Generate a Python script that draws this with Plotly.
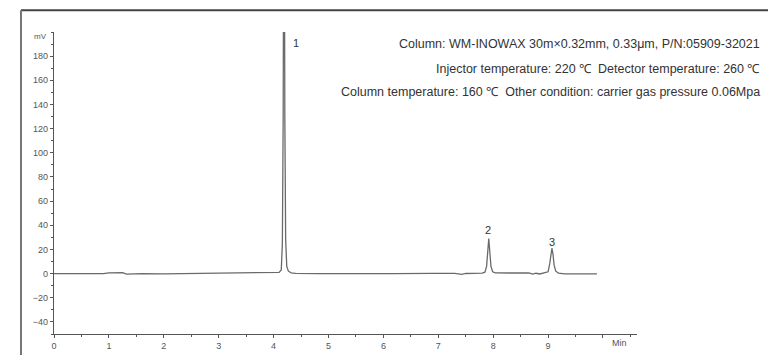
import plotly.graph_objects as go

# Chromatogram (time in min, signal in mV)
time_min = [0.00, 0.40, 0.90, 1.00, 1.10, 1.25, 1.32, 1.40, 1.60, 2.00, 2.50, 3.00, 3.30, 3.60, 3.90, 4.05,
            4.10, 4.14, 4.16, 4.175, 4.19, 4.205, 4.22, 4.24, 4.27, 4.32, 4.40, 4.80, 5.50, 6.20, 6.90,
            7.30, 7.43, 7.50, 7.80, 7.85, 7.88, 7.90, 7.92, 7.94, 7.96, 7.99, 8.04, 8.30, 8.65, 8.72,
            8.78, 8.85, 8.95, 9.00, 9.03, 9.05, 9.07, 9.09, 9.11, 9.14, 9.19, 9.30, 9.60, 9.75, 9.89]
signal_mv = [0.0, -0.2, -0.1, 0.6, 0.8, 0.7, -0.4, -0.3, -0.1, -0.2, 0.0, 0.0, 0.3, 0.6, 0.7, 0.8,
             1.0, 3.0, 25.0, 130.0, 420.0, 130.0, 28.0, 6.0, 2.0, 0.6, 0.2, 0.0, -0.2, -0.1, 0.2,
             0.2, -0.6, 0.1, 0.4, 1.2, 6.0, 17.0, 29.0, 17.0, 6.0, 1.5, 0.6, 0.5, 0.6, -0.4,
             0.3, -0.3, 0.6, 1.5, 8.0, 16.0, 21.0, 16.0, 7.0, 2.0, 0.4, -0.3, -0.2, -0.4, -0.3]

peak_labels = ["1", "2", "3"]
peak_x = [4.41, 7.905, 9.07]
peak_y = [191, 36, 26]

info_lines = [
    "Column: WM-INOWAX 30m×0.32mm, 0.33μm, P/N:05909-32021",
    "Injector temperature: 220 ℃  Detector temperature: 260 ℃",
    "Column temperature: 160 ℃  Other condition: carrier gas pressure 0.06Mpa",
]
info_y = [42, 67, 91]

x_ticks = [0, 1, 2, 3, 4, 5, 6, 7, 8, 9, 10]
x_tick_text = ["0", "1", "2", "3", "4", "5", "6", "7", "8", "9", ""]
y_ticks = [-40, -20, 0, 20, 40, 60, 80, 100, 120, 140, 160, 180]

# page body margin offsets; layout coordinates are screen coords minus these
OFF_X, OFF_Y = 8, 6
W, H = 776, 355
L, T, R_EDGE, B_EDGE = 54 - OFF_X, 30 - OFF_Y, 637 - OFF_X, 335 - OFF_Y
PW, PH = R_EDGE - L, B_EDGE - T


def px_x(sx):
    return (sx - OFF_X - L) / PW


def px_y(sy):
    return 1 - (sy - OFF_Y - T) / PH


fig = go.Figure()
fig.add_trace(go.Scatter(x=time_min, y=signal_mv, mode="lines",
                         line=dict(color="#6a6a6a", width=1.3), hoverinfo="skip"))

fam = "Liberation Sans, Arial, sans-serif"
axis_font = dict(family=fam, size=9, color="#555555")
fig.update_layout(
    width=W, height=H,
    margin=dict(l=L, r=W - R_EDGE, t=T, b=H - B_EDGE),
    paper_bgcolor="white", plot_bgcolor="white",
    showlegend=False,
    xaxis=dict(range=[0, 10.62], tickvals=x_ticks, ticktext=x_tick_text,
               showgrid=False, zeroline=False, showline=True, linecolor="#555555", linewidth=1.2,
               ticks="outside", ticklen=3, tickcolor="#555555", tickfont=axis_font,
               minor=dict(dtick=0.5, ticks="outside", ticklen=2, tickcolor="#555555")),
    yaxis=dict(range=[-50, 200], tickvals=y_ticks,
               showgrid=False, zeroline=False, showline=True, linecolor="#555555", linewidth=1.2,
               ticks="outside", ticklen=3, tickcolor="#555555", tickfont=axis_font,
               minor=dict(dtick=10, ticks="outside", ticklen=2, tickcolor="#555555")),
    font=dict(family=fam),
)

# Frame lines (top and left)
fig.add_shape(type="line", xref="paper", yref="paper", x0=px_x(21), x1=px_x(800), y0=px_y(8), y1=px_y(8),
              line=dict(color="#444444", width=2))
fig.add_shape(type="line", xref="paper", yref="paper", x0=px_x(21), x1=px_x(21), y0=px_y(8), y1=px_y(370),
              line=dict(color="#777777", width=2))

# mV and Min labels
fig.add_annotation(x=px_x(40), y=px_y(35), xref="paper", yref="paper", text="mV", showarrow=False,
                   xanchor="center", yanchor="middle", font=dict(family=fam, size=8, color="#555555"))
fig.add_annotation(x=10.3, y=px_y(344), xref="x", yref="paper", text="Min", showarrow=False,
                   yanchor="middle", font=axis_font)

for lbl, px, py in zip(peak_labels, peak_x, peak_y):
    fig.add_annotation(x=px, y=py, text=lbl, showarrow=False, yanchor="middle",
                       font=dict(family=fam, size=11, color="#333333"))

for line, yy in zip(info_lines, info_y):
    fig.add_annotation(x=px_x(762), y=px_y(yy), xref="paper", yref="paper",
                       text=line, showarrow=False, xanchor="right", yanchor="middle",
                       font=dict(family=fam, size=12.5, color="#333333"))

fig.write_html("out.html")
